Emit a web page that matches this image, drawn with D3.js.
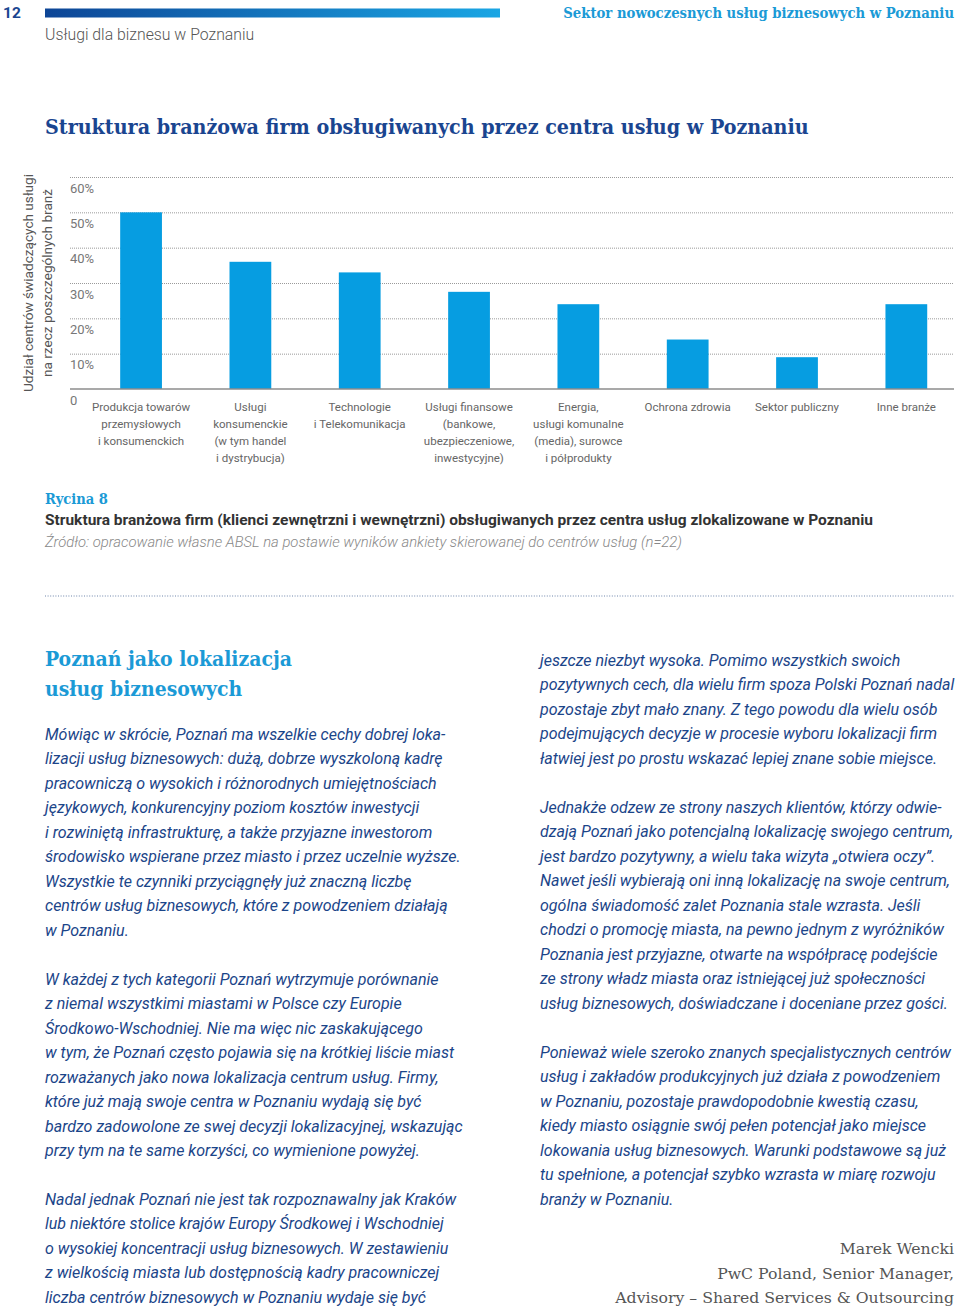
<!DOCTYPE html>
<html><head><meta charset="utf-8">
<script src="https://cdn.jsdelivr.net/npm/d3@7"></script>
<style>body{margin:0;background:#fff}svg{display:block}</style>
</head><body>
<script>
// ---- data ----
const categories = [
  ["Produkcja towarów","przemysłowych","i konsumenckich"],
  ["Usługi","konsumenckie","(w tym handel","i dystrybucja)"],
  ["Technologie","i Telekomunikacja"],
  ["Usługi finansowe","(bankowe,","ubezpieczeniowe,","inwestycyjne)"],
  ["Energia,","usługi komunalne","(media), surowce","i półprodukty"],
  ["Ochrona zdrowia"],
  ["Sektor publiczny"],
  ["Inne branże"]
];
const values = [50, 36, 33, 27.5, 24, 14, 9, 24];
const yTicks = [0, 10, 20, 30, 40, 50, 60];
const yTickLabels = ["0", "10%", "20%", "30%", "40%", "50%", "60%"];
const yAxisTitle = ["Udział centrów świadczących usługi", "na rzecz poszczególnych branż"];

const pageNumber = "12";
const headerRight = "Sektor nowoczesnych usług biznesowych w Poznaniu";
const headerSub = "Usługi dla biznesu w Poznaniu";
const chartTitle = "Struktura branżowa firm obsługiwanych przez centra usług w Poznaniu";
const figLabel = "Rycina 8";
const figCaption = "Struktura branżowa firm (klienci zewnętrzni i wewnętrzni) obsługiwanych przez centra usług zlokalizowane w Poznaniu";
const figSource = "Źródło: opracowanie własne ABSL na postawie wyników ankiety skierowanej do centrów usług (n=22)";
const heading = ["Poznań jako lokalizacja", "usług biznesowych"];

const leftParas = [
 ["Mówiąc w skrócie, Poznań ma wszelkie cechy dobrej loka-",
  "lizacji usług biznesowych: dużą, dobrze wyszkoloną kadrę",
  "pracowniczą o wysokich i różnorodnych umiejętnościach",
  "językowych, konkurencyjny poziom kosztów inwestycji",
  "i rozwiniętą infrastrukturę, a także przyjazne inwestorom",
  "środowisko wspierane przez miasto i przez uczelnie wyższe.",
  "Wszystkie te czynniki przyciągnęły już znaczną liczbę",
  "centrów usług biznesowych, które z powodzeniem działają",
  "w Poznaniu."],
 ["W każdej z tych kategorii Poznań wytrzymuje porównanie",
  "z niemal wszystkimi miastami w Polsce czy Europie",
  "Środkowo-Wschodniej. Nie ma więc nic zaskakującego",
  "w tym, że Poznań często pojawia się na krótkiej liście miast",
  "rozważanych jako nowa lokalizacja centrum usług. Firmy,",
  "które już mają swoje centra w Poznaniu wydają się być",
  "bardzo zadowolone ze swej decyzji lokalizacyjnej, wskazując",
  "przy tym na te same korzyści, co wymienione powyżej."],
 ["Nadal jednak Poznań nie jest tak rozpoznawalny jak Kraków",
  "lub niektóre stolice krajów Europy Środkowej i Wschodniej",
  "o wysokiej koncentracji usług biznesowych. W zestawieniu",
  "z wielkością miasta lub dostępnością kadry pracowniczej",
  "liczba centrów biznesowych w Poznaniu wydaje się być"]
];
const rightParas = [
 ["jeszcze niezbyt wysoka. Pomimo wszystkich swoich",
  "pozytywnych cech, dla wielu firm spoza Polski Poznań nadal",
  "pozostaje zbyt mało znany. Z tego powodu dla wielu osób",
  "podejmujących decyzje w procesie wyboru lokalizacji firm",
  "łatwiej jest po prostu wskazać lepiej znane sobie miejsce."],
 ["Jednakże odzew ze strony naszych klientów, którzy odwie-",
  "dzają Poznań jako potencjalną lokalizację swojego centrum,",
  "jest bardzo pozytywny, a wielu taka wizyta „otwiera oczy”.",
  "Nawet jeśli wybierają oni inną lokalizację na swoje centrum,",
  "ogólna świadomość zalet Poznania stale wzrasta. Jeśli",
  "chodzi o promocję miasta, na pewno jednym z wyróżników",
  "Poznania jest przyjazne, otwarte na współpracę podejście",
  "ze strony władz miasta oraz istniejącej już społeczności",
  "usług biznesowych, doświadczane i doceniane przez gości."],
 ["Ponieważ wiele szeroko znanych specjalistycznych centrów",
  "usług i zakładów produkcyjnych już działa z powodzeniem",
  "w Poznaniu, pozostaje prawdopodobnie kwestią czasu,",
  "kiedy miasto osiągnie swój pełen potencjał jako miejsce",
  "lokowania usług biznesowych. Warunki podstawowe są już",
  "tu spełnione, a potencjał szybko wzrasta w miarę rozwoju",
  "branży w Poznaniu."]
];
const signature = ["Marek Wencki", "PwC Poland, Senior Manager,", "Advisory – Shared Services & Outsourcing"];

// ---- drawing ----
const W = 960, H = 1312;
const svg = d3.select("body").append("svg").attr("width", W).attr("height", H);
const SLAB = "'DejaVu Serif Condensed','DejaVu Serif',serif";
const SANS = "Roboto, 'Noto Sans', sans-serif";
const lightBlue = "#1b9ad6", darkBlue = "#1a4590", bodyBlue = "#1b4589";

function fitWidth(sel, w) {
  const node = sel.node();
  const cur = node.getComputedTextLength();
  const fs = parseFloat(sel.attr("font-size"));
  sel.attr("font-size", (fs * w / cur).toFixed(2));
  return fs * w / cur;
}

// header
const defs = svg.append("defs");
const grad = defs.append("linearGradient").attr("id", "hdr").attr("x1", "0").attr("x2", "1");
grad.append("stop").attr("offset", "0").attr("stop-color", "#0d4596");
grad.append("stop").attr("offset", "1").attr("stop-color", "#1aa6e4");
svg.append("rect").attr("x", 45).attr("y", 8.5).attr("width", 455).attr("height", 9).attr("fill", "url(#hdr)");
svg.append("text").attr("x", 3).attr("y", 18).attr("font-family", SANS).attr("font-weight", 700)
  .attr("font-size", 15.5).attr("fill", darkBlue).text(pageNumber);
const hr = svg.append("text").attr("x", 954).attr("y", 18).attr("text-anchor", "end").attr("font-family", SLAB)
  .attr("font-weight", 700).attr("font-size", 16).attr("fill", lightBlue).text(headerRight);
fitWidth(hr, 391);
svg.append("text").attr("x", 45).attr("y", 40).attr("font-family", SANS).attr("font-weight", 300)
  .attr("font-size", 15.8).attr("fill", "#555").text(headerSub);

const tt = svg.append("text").attr("x", 45).attr("y", 134).attr("font-family", SLAB).attr("font-weight", 700)
  .attr("font-size", 22).attr("fill", darkBlue).text(chartTitle);
fitWidth(tt, 764);

// chart
const x0 = 70, x1 = 954, yBase = 389, yTop = 177;
const y = d3.scaleLinear().domain([0, 60]).range([yBase, yTop]);
const x = d3.scaleBand().domain(d3.range(categories.length)).range([86.4, 961]).paddingInner(0.618).paddingOuter(0.309);

svg.append("g").selectAll("line").data(yTicks.filter(d => d > 0)).join("line")
  .attr("x1", x0).attr("x2", x1).attr("y1", d => y(d) + 0.5).attr("y2", d => y(d) + 0.5)
  .attr("stroke", "#9a9a9a").attr("stroke-width", 1).attr("stroke-dasharray", "1,1");

svg.append("g").selectAll("text").data(yTicks).join("text")
  .attr("x", x0).attr("y", d => d === 0 ? y(d) + 16 : y(d) + 15.5)
  .attr("font-family", SANS).attr("font-size", 13).attr("fill", "#777")
  .text((d, i) => yTickLabels[i]);

svg.append("g").selectAll("rect").data(values).join("rect")
  .attr("x", (d, i) => x(i)).attr("width", x.bandwidth())
  .attr("y", d => y(d)).attr("height", d => yBase - y(d))
  .attr("fill", "#069de1");

svg.append("line").attr("x1", x0).attr("x2", x1).attr("y1", yBase).attr("y2", yBase)
  .attr("stroke", "#8c8c8c").attr("stroke-width", 1.5);

const cl = svg.append("g").selectAll("text").data(categories).join("text")
  .attr("text-anchor", "middle").attr("font-family", SANS).attr("font-size", 11.5).attr("fill", "#666");
cl.each(function(lines, i) {
  d3.select(this).selectAll("tspan").data(lines).join("tspan")
    .attr("x", x(i) + x.bandwidth() / 2).attr("y", (d, j) => 411 + j * 17).text(d => d);
});

const yt = svg.append("text").attr("transform", "translate(0,283) rotate(-90)")
  .attr("text-anchor", "middle").attr("font-family", SANS).attr("font-size", 13.6).attr("fill", "#555");
yt.selectAll("tspan").data(yAxisTitle).join("tspan").attr("x", 0).attr("y", (d, i) => 33 + i * 19).text(d => d);

// caption
const rl = svg.append("text").attr("x", 45).attr("y", 504).attr("font-family", SLAB).attr("font-weight", 700)
  .attr("font-size", 14).attr("fill", lightBlue).text(figLabel);
fitWidth(rl, 63);
svg.append("text").attr("x", 45).attr("y", 525).attr("font-family", SANS).attr("font-weight", 700)
  .attr("font-size", 14).attr("fill", "#333").text(figCaption)
  .attr("textLength", 828).attr("lengthAdjust", "spacingAndGlyphs");
svg.append("text").attr("x", 45).attr("y", 547).attr("font-family", SANS).attr("font-weight", 300)
  .attr("font-style", "italic").attr("font-size", 14).attr("fill", "#888").text(figSource)
  .attr("textLength", 637).attr("lengthAdjust", "spacingAndGlyphs");

svg.append("line").attr("x1", 45).attr("x2", 954).attr("y1", 596).attr("y2", 596)
  .attr("stroke", "#6f86ab").attr("stroke-width", 1.2).attr("stroke-dasharray", "1,1.6");

// heading
const h0 = svg.append("text").attr("x", 45).attr("y", 666).attr("font-family", SLAB)
  .attr("font-weight", 700).attr("font-size", 23).attr("fill", lightBlue).text(heading[0]);
const hfs = fitWidth(h0, 247);
svg.append("text").attr("x", 45).attr("y", 696).attr("font-family", SLAB)
  .attr("font-weight", 700).attr("font-size", hfs).attr("fill", lightBlue).text(heading[1]);

function para(lines, xPos, yStart) {
  svg.append("g").selectAll("text").data(lines).join("text")
    .attr("x", xPos).attr("y", (d, i) => yStart + i * 24.5)
    .attr("font-family", SANS).attr("font-style", "italic").attr("font-size", 16)
    .attr("fill", bodyBlue).text(d => d);
}
para(leftParas[0], 45, 739.5);
para(leftParas[1], 45, 984.5);
para(leftParas[2], 45, 1204.5);
para(rightParas[0], 540, 665.5);
para(rightParas[1], 540, 812.5);
para(rightParas[2], 540, 1057.5);

svg.append("g").selectAll("text").data(signature).join("text")
  .attr("x", 954).attr("y", (d, i) => 1254 + i * 24.5).attr("text-anchor", "end")
  .attr("font-family", "'DejaVu Serif',serif").attr("font-size", 15.7).attr("fill", "#555")
  .text(d => d);
</script>
</body></html>
